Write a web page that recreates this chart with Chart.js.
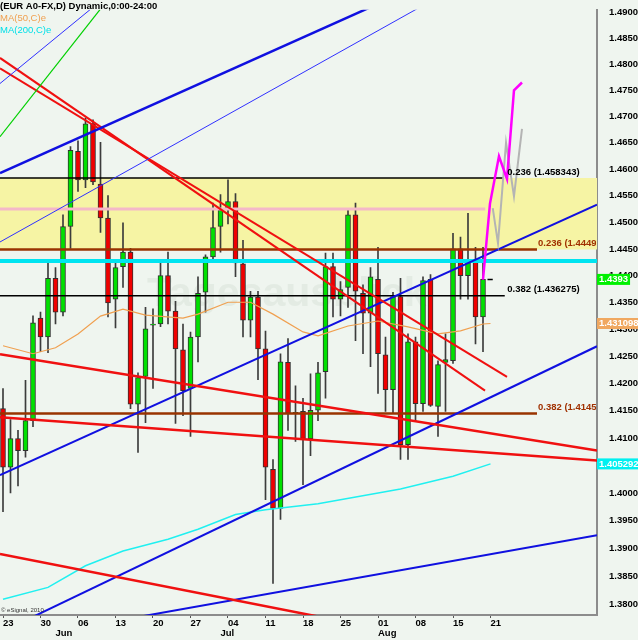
<!DOCTYPE html>
<html>
<head>
<meta charset="utf-8">
<script src="https://cdn.jsdelivr.net/npm/chart.js@4.4.0/dist/chart.umd.min.js"></script>
<style>
  html, body { margin: 0; padding: 0; background: #eff5ef; }
  canvas { display: block; }
</style>
</head>
<body>
<canvas id="chart" width="638" height="640"></canvas>
<script>
// EUR/USD daily candles, 23 May 2011 (index 0) .. 19 Aug 2011 (index 64)
const days = ['05-23','05-24','05-25','05-26','05-27','05-30','05-31','06-01','06-02','06-03',
  '06-06','06-07','06-08','06-09','06-10','06-13','06-14','06-15','06-16','06-17',
  '06-20','06-21','06-22','06-23','06-24','06-27','06-28','06-29','06-30','07-01',
  '07-04','07-05','07-06','07-07','07-08','07-11','07-12','07-13','07-14','07-15',
  '07-18','07-19','07-20','07-21','07-22','07-25','07-26','07-27','07-28','07-29',
  '08-01','08-02','08-03','08-04','08-05','08-08','08-09','08-10','08-11','08-12',
  '08-15','08-16','08-17','08-18','08-19'];
const open  = [1.4154,1.4047,1.4099,1.4077,1.4132,1.4321,1.4286,1.4395,1.4332,1.4492,
  1.4634,1.4580,1.4686,1.4572,1.4508,1.4356,1.4417,1.4444,1.4162,1.4213,
  1.4308,1.4310,1.4400,1.4334,1.4262,1.4191,1.4286,1.4369,1.4435,1.4492,
  1.4525,1.4539,1.4422,1.4317,1.4360,1.4264,1.4043,1.3972,1.4239,1.4145,
  1.4149,1.4099,1.4151,1.4222,1.4417,1.4356,1.4378,1.4514,1.4367,1.4330,
  1.4393,1.4253,1.4189,1.4361,1.4088,1.4277,1.4163,1.4393,1.4158,1.4239,
  1.4242,1.4450,1.4400,1.4426,1.4323];
const high  = [1.4191,1.4134,1.4114,1.4206,1.4325,1.4332,1.4424,1.4415,1.4514,1.4643,
  1.4654,1.4697,1.4694,1.4651,1.4550,1.4424,1.4499,1.4451,1.4220,1.4341,
  1.4338,1.4424,1.4444,1.4352,1.4310,1.4295,1.4398,1.4439,1.4536,1.4552,
  1.4580,1.4554,1.4466,1.4371,1.4371,1.4297,1.4061,1.4255,1.4283,1.4196,
  1.4173,1.4218,1.4239,1.4442,1.4442,1.4389,1.4525,1.4536,1.4383,1.4415,
  1.4453,1.4286,1.4369,1.4395,1.4292,1.4286,1.4398,1.4402,1.4242,1.4292,
  1.4479,1.4472,1.4517,1.4453,1.4453];
const low   = [1.3966,1.4000,1.4013,1.4065,1.4121,1.4259,1.4257,1.4310,1.4325,1.4451,
  1.4558,1.4565,1.4571,1.4481,1.4323,1.4303,1.4378,1.4154,1.4074,1.4128,
  1.4191,1.4305,1.4310,1.4127,1.4141,1.4103,1.4240,1.4332,1.4428,1.4444,
  1.4497,1.4398,1.4286,1.4286,1.4207,1.3988,1.3837,1.3952,1.4114,1.4094,
  1.4015,1.4068,1.4132,1.4173,1.4323,1.4325,1.4341,1.4279,1.4255,1.4231,
  1.4182,1.4149,1.4145,1.4061,1.4061,1.4130,1.4149,1.4158,1.4103,1.4149,
  1.4237,1.4356,1.4356,1.4273,1.4259];
const close = [1.4047,1.4099,1.4077,1.4132,1.4312,1.4286,1.4395,1.4332,1.4492,1.4636,
  1.4580,1.4686,1.4576,1.4508,1.4349,1.4415,1.4444,1.4162,1.4211,1.4301,
  1.4310,1.4400,1.4334,1.4264,1.4187,1.4286,1.4367,1.4435,1.4490,1.4523,
  1.4539,1.4424,1.4317,1.4360,1.4264,1.4047,1.3972,1.4240,1.4145,1.4147,
  1.4099,1.4151,1.4220,1.4417,1.4356,1.4374,1.4514,1.4371,1.4330,1.4398,
  1.4255,1.4189,1.4361,1.4088,1.4277,1.4163,1.4391,1.4160,1.4235,1.4244,
  1.4450,1.4400,1.4426,1.4323,1.4393];

// moving averages (bar index, value)
const ma50Idx  = [0, 4, 7, 10, 13, 16, 19, 24, 26, 30, 33, 36, 40, 42, 46, 50, 54, 58, 61, 64, 65];
const ma50Val  = [1.42697,1.42550,1.42660,1.42917,1.43247,1.43376,1.43266,1.43211,1.43284,1.43504,
  1.43504,1.43284,1.42954,1.42880,1.43064,1.43156,1.43046,1.42917,1.42972,1.43101,1.431098];
const ma200Idx = [0, 6, 11, 16, 22, 26, 31, 35, 42, 53, 60, 65];
const ma200Val = [1.38086,1.38298,1.38686,1.38952,1.39165,1.39343,1.39609,1.39698,1.39805,1.40073,1.40306,1.405292];

// horizontal levels
const bandTop = 1.458343;
const bandBottom = 1.4449;
const fibBlackLevels = [1.458343, 1.436275];
const fibBlackTexts  = ['0.236 (1.458343)', '0.382 (1.436275)'];
const fibBrownLevels = [1.4449, 1.4145];
const fibBrownTexts  = ['0.236 (1.4449', '0.382 (1.4145'];
const cyanLevel = 1.44275;
const pinkLevel = 1.45247;
const lastMarker = 1.4393;

// trend lines: [bar index, price] end points
const blueTopThick  = [[-0.4, 1.45927], [52.93, 1.49354]];
const blueTopThin   = [[-0.4, 1.44630], [55.6, 1.49099]];
const blueSteep     = [[-0.4, 1.47631], [11.6, 1.49050]];
const greenLine     = [[-0.4, 1.46618], [12.93, 1.49050]];
const redDownA      = [[-0.4, 1.47923], [67.2, 1.42125]];
const redDownB      = [[-0.4, 1.48121], [64.27, 1.41871]];
const redMid        = [[-0.4, 1.42542], [79.2, 1.40772]];
const redLow        = [[-0.4, 1.41383], [79.2, 1.40592]];
const redBottom     = [[-0.4, 1.38899], [42.27, 1.37770]];
const blueChannel   = [[-0.4, 1.40324], [79.2, 1.45333]];
const blueChannelLo = [[-0.4, 1.37489], [79.2, 1.42688]];
const blueBottom    = [[12.93, 1.37647], [79.2, 1.39236]];

// projected path
const magentaIdx = [64, 64.93, 66.13, 67.2, 68.13, 69.2];
const magentaVal = [1.43926, 1.45351, 1.46244, 1.45816, 1.47499, 1.47650];
const grayIdx = [65.3, 66, 67.07, 68.13, 69.2];
const grayVal = [1.45265, 1.44605, 1.46505, 1.45486, 1.46767];

// axes (price axis is logarithmic)
const xMin = -0.4, xMax = 79.2;
const yMin = 1.37804, yMax = 1.49050;
const yTicks = [1.380,1.385,1.390,1.395,1.400,1.405,1.410,1.415,1.420,1.425,1.430,1.435,
  1.440,1.445,1.450,1.455,1.460,1.465,1.470,1.475,1.480,1.485,1.490];
const dayTickIdx = [0, 5, 10, 15, 20, 25, 30, 35, 40, 45, 50, 55, 60, 65];
const dayTickLabels = ['23','30','06','13','20','27','04','11','18','25','01','08','15','21'];
// month names sit at the first trading day of each month
const monthTickIdx = [7, 29, 50];
const monthTickLabels = ['Jun', 'Jul', 'Aug'];

// price boxes on the axis
const boxValues = [1.4393, 1.431098, 1.405292];
const boxTexts  = ['1.4393', '1.431098', '1.405292'];
const boxColors = ['#00f000', '#f0a860', '#00f0f0'];

const FONT = 'Arial, "Liberation Sans", sans-serif';
const UP = '#00e000', DOWN = '#f00000';

const pts = arr => arr.map(p => ({ x: p[0], y: p[1] }));
const zip = (xs, ys) => xs.map((v, i) => ({ x: v, y: ys[i] }));
const flat = (v, a, b) => [{ x: a, y: v }, { x: b, y: v }];

function line(data, color, width, order) {
  return {
    type: 'line', data, borderColor: color, borderWidth: width,
    pointRadius: 0, fill: false, tension: 0, order,
    xAxisID: 'x', yAxisID: 'y'
  };
}

const candleColors = close.map((c, i) => c >= open[i] ? UP : DOWN);

const datasets = [
  // yellow zone
  Object.assign(line(flat(bandTop, xMin, xMax), 'rgba(0,0,0,0)', 0, 30),
    { fill: { value: bandBottom }, backgroundColor: '#f6f4a4' }),
  // wicks and bodies
  {
    type: 'bar', data: days.map((d, i) => ({ x: i, y: [low[i], high[i]] })),
    backgroundColor: '#3c3c3c', barThickness: 1, grouped: false, order: 21,
    xAxisID: 'x', yAxisID: 'y'
  },
  {
    type: 'bar', data: days.map((d, i) => ({ x: i, y: [open[i], close[i]] })),
    backgroundColor: candleColors, borderColor: '#303030', borderWidth: 1,
    borderSkipped: false, barThickness: 5, grouped: false, order: 20,
    xAxisID: 'x', yAxisID: 'y'
  },
  line(flat(pinkLevel, xMin, 64.3), '#f4b8c8', 3, 12),
  line(flat(cyanLevel, xMin, xMax), '#00e4f0', 4, 12),
  line(flat(fibBlackLevels[0], xMin, 66.7), '#000000', 1.5, 11),
  line(flat(fibBlackLevels[1], xMin, 66.9), '#000000', 1.5, 11),
  line(flat(fibBrownLevels[0], xMin, 71.2), '#993300', 2.5, 11),
  line(flat(fibBrownLevels[1], xMin, 71.2), '#993300', 2.5, 11),
  line(flat(lastMarker, 64.6, 65.3), '#000000', 1.5, 11),
  line(zip(ma50Idx, ma50Val), '#f0a050', 1.2, 10),
  line(zip(ma200Idx, ma200Val), '#20f0f0', 1.5, 10),
  line(pts(blueTopThick), '#1010e0', 2.5, 5),
  line(pts(blueTopThin), '#3030ff', 1, 5),
  line(pts(blueSteep), '#3030ff', 1, 5),
  line(pts(greenLine), '#00d000', 1.2, 5),
  line(pts(redDownA), '#f01010', 2, 5),
  line(pts(redDownB), '#f01010', 2, 5),
  line(pts(redMid), '#f01010', 2.5, 5),
  line(pts(redLow), '#f01010', 2.5, 5),
  line(pts(redBottom), '#f01010', 2.5, 5),
  line(pts(blueChannel), '#1010e0', 2, 5),
  line(pts(blueChannelLo), '#1010e0', 2, 5),
  line(pts(blueBottom), '#1010e0', 2, 5),
  line(zip(grayIdx, grayVal), '#b4b4b4', 2, 2),
  line(zip(magentaIdx, magentaVal), '#ff00ff', 2.5, 1)
];

const overlayText = {
  id: 'overlayText',
  beforeDatasetsDraw(chart) {
    // faint watermark behind the price bars
    const { ctx, scales: { x, y } } = chart;
    ctx.save();
    ctx.font = 'bold 41px ' + FONT;
    ctx.fillStyle = '#e3ebe3';
    ctx.textBaseline = 'middle';
    ctx.fillText('Tagesausblick', x.getPixelForValue(19.2), y.getPixelForValue(1.4365));
    ctx.restore();
  },
  afterDraw(chart) {
    const { ctx, scales: { x, y } } = chart;
    ctx.save();
    ctx.textBaseline = 'middle';
    ctx.textAlign = 'left';

    // fibonacci level labels
    ctx.font = 'bold 9.5px ' + FONT;
    ctx.fillStyle = '#000000';
    fibBlackLevels.forEach((v, k) => {
      ctx.fillText(fibBlackTexts[k], x.getPixelForValue(66.7) + 4, y.getPixelForValue(v) - 6);
    });
    ctx.save();
    ctx.beginPath();
    ctx.rect(0, 0, chart.chartArea.right - 1, chart.chartArea.bottom);
    ctx.clip();
    ctx.fillStyle = '#a03000';
    fibBrownLevels.forEach((v, k) => {
      ctx.fillText(fibBrownTexts[k], x.getPixelForValue(71.2) + 1, y.getPixelForValue(v) - 6);
    });
    ctx.restore();

    // study legend
    ctx.font = 'bold 9.5px ' + FONT;
    ctx.fillStyle = '#000000';
    ctx.fillText('(EUR A0-FX,D) Dynamic,0:00-24:00', 0, 6);
    ctx.font = '9.5px ' + FONT;
    ctx.fillStyle = '#f0a050';
    ctx.fillText('MA(50,C)e', 0, 18);
    ctx.fillStyle = '#00e0e8';
    ctx.fillText('MA(200,C)e', 0, 30);

    ctx.font = '6px ' + FONT;
    ctx.fillStyle = '#333333';
    ctx.fillText('\u00a9 eSignal, 2010', 1, 610);

    // last values on the price axis
    ctx.font = 'bold 9.5px ' + FONT;
    boxValues.forEach((v, k) => {
      const py = y.getPixelForValue(v);
      const w = ctx.measureText(boxTexts[k]).width + 4;
      ctx.fillStyle = boxColors[k];
      ctx.fillRect(x.right, py - 5.5, w, 11);
      ctx.fillStyle = '#ffffff';
      ctx.fillText(boxTexts[k], x.right + 2, py);
    });
    ctx.restore();
  }
};

const tickFont = { family: FONT, size: 9.5, weight: 'bold' };

new Chart(document.getElementById('chart'), {
  type: 'bar',
  data: { datasets },
  options: {
    responsive: false,
    animation: false,
    events: [],
    layout: { padding: 0 },
    plugins: { legend: { display: false }, tooltip: { enabled: false } },
    scales: {
      x: {
        type: 'linear', axis: 'x', position: 'bottom', min: xMin, max: xMax, offset: false, weight: 0,
        grid: { display: true, drawOnChartArea: false, drawTicks: true, tickLength: 3, color: '#555555', offset: false },
        border: { display: true, color: '#8c8c8c', width: 2 },
        ticks: {
          autoSkip: false, maxRotation: 0, align: 'start', padding: 0, color: '#000000', font: tickFont,
          callback: v => dayTickLabels[dayTickIdx.indexOf(v)]
        },
        afterBuildTicks: s => { s.ticks = dayTickIdx.map(v => ({ value: v })); },
        afterFit: s => { s.height = 13; }
      },
      x2: {
        type: 'linear', axis: 'x', position: 'bottom', min: xMin, max: xMax, offset: false, weight: 1,
        grid: { display: false, drawTicks: false },
        border: { display: false },
        ticks: {
          autoSkip: false, maxRotation: 0, align: 'start', padding: 0, color: '#000000', font: tickFont,
          callback: v => monthTickLabels[monthTickIdx.indexOf(v)]
        },
        afterBuildTicks: s => { s.ticks = monthTickIdx.map(v => ({ value: v })); },
        afterFit: s => { s.height = 12; }
      },
      y: {
        type: 'logarithmic', position: 'right', min: yMin, max: yMax,
        grid: { display: false },
        border: { display: true, color: '#8c8c8c', width: 2 },
        ticks: {
          padding: 4, color: '#000000', font: tickFont,
          callback: v => Number(v).toFixed(4)
        },
        afterBuildTicks: s => { s.ticks = yTicks.map(v => ({ value: v })); },
        afterFit: s => { s.width = 41; },
        afterUpdate: s => {
          // keep the top label inside the canvas, as the original does
          s.getPixelForTick = function (i) {
            return Math.max(Object.getPrototypeOf(this).getPixelForTick.call(this, i), 5);
          };
        }
      }
    }
  },
  plugins: [overlayText]
});
</script>
</body>
</html>
